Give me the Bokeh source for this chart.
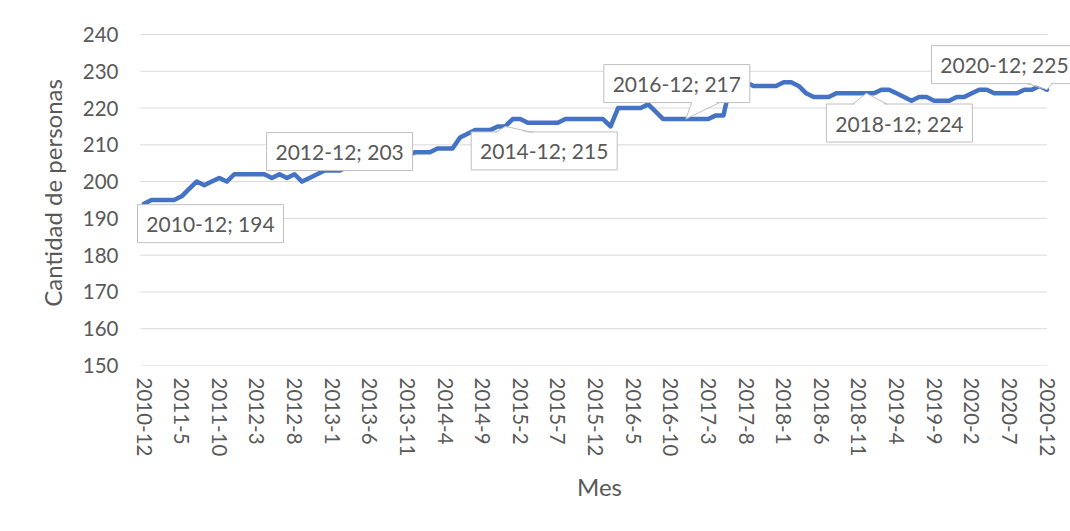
from bokeh.plotting import figure
from bokeh.models import Range1d, FixedTicker
from bokeh.core.properties import value
from bokeh.embed import file_html
from bokeh.resources import INLINE

# ---------------- data ----------------
tick_labels = ["2010-12", "2011-5", "2011-10", "2012-3", "2012-8", "2013-1", "2013-6",
               "2013-11", "2014-4", "2014-9", "2015-2", "2015-7", "2015-12", "2016-5",
               "2016-10", "2017-3", "2017-8", "2018-1", "2018-6", "2018-11", "2019-4",
               "2019-9", "2020-2", "2020-7", "2020-12"]
tick_step = 5  # one label every five months

# Monthly values, 2010-12 .. 2020-12 (121 months)
persons = [194, 195, 195, 195, 195, 196, 198, 200, 199, 200, 201, 200, 202,
           202, 202, 202, 202, 201, 202, 201, 202, 200, 201, 202, 203,
           203, 203, 204, 204, 205, 205, 205, 206, 206, 206, 207, 208,
           208, 208, 209, 209, 209, 212, 213, 214, 214, 214, 215, 215,
           217, 217, 216, 216, 216, 216, 216, 217, 217, 217, 217, 217,
           217, 215, 220, 220, 220, 220, 221, 219, 217, 217, 217, 217,
           217, 217, 217, 218, 218, 227, 227, 227, 226, 226, 226, 226,
           227, 227, 226, 224, 223, 223, 223, 224, 224, 224, 224, 224,
           224, 225, 225, 224, 223, 222, 223, 223, 222, 222, 222, 223,
           223, 224, 225, 225, 224, 224, 224, 224, 225, 225, 226, 225]

y_ticks = [150, 160, 170, 180, 190, 200, 210, 220, 230, 240]

annotated_months = ["2010-12", "2012-12", "2014-12", "2016-12", "2018-12", "2020-12"]
annotated_index = [0, 24, 48, 72, 96, 120]

# ---------------- layout / style ----------------
W, H = 1070, 531
ML, MR, MT, MB = 128, 0, 20, 166
FRAME_W = W - ML - MR
FRAME_H = H - MT - MB
PX_X = 7.525          # px per month
PX_Y = 3.678          # px per person
FIRST_PT_OFF = 15.5   # px from frame left to first month

x_start = -FIRST_PT_OFF / PX_X
x_end = x_start + FRAME_W / PX_X
y_start = y_ticks[0]
y_end = y_start + FRAME_H / PX_Y

TEXT = "#595959"
GRID = "#D9D9D9"
BORDER = "#BFBFBF"
LINE = "#4472C4"
FONT = "Lato"

p = figure(width=W, height=H, output_backend="svg", toolbar_location=None,
           x_range=Range1d(x_start, x_end), y_range=Range1d(y_start, y_end),
           min_border_left=ML, min_border_right=MR, min_border_top=MT,
           min_border_bottom=MB)
p.outline_line_color = None
p.xgrid.visible = False
p.ygrid.visible = False

# gridlines
n = len(persons)
grid_x0 = -0.45
p.segment(x0=[grid_x0] * len(y_ticks), x1=[n - 1] * len(y_ticks),
          y0=y_ticks, y1=y_ticks, line_color=GRID, line_width=1)

# series
p.line(x=list(range(n)), y=persons, line_color=LINE, line_width=4.5,
       line_join="round", line_cap="round")

# axes
tick_pos = [i * tick_step for i in range(len(tick_labels))]
p.xaxis.ticker = FixedTicker(ticks=tick_pos)
p.xaxis.major_label_overrides = {t: lab for t, lab in zip(tick_pos, tick_labels)}
p.xaxis.major_label_orientation = "vertical"
p.yaxis.ticker = FixedTicker(ticks=y_ticks)
for ax in (p.xaxis[0], p.yaxis[0]):
    ax.axis_line_color = None
    ax.major_tick_line_color = None
    ax.minor_tick_line_color = None
    ax.major_tick_out = 0
    ax.major_tick_in = 0
    ax.major_label_text_font = FONT
    ax.major_label_text_font_size = "20.5px"
    ax.major_label_text_color = TEXT
    ax.axis_label_text_font = FONT
    ax.axis_label_text_font_size = "24px"
    ax.axis_label_text_font_style = "normal"
    ax.axis_label_text_color = TEXT
p.xaxis.axis_label = "Mes"
p.yaxis.axis_label = "Cantidad de personas"
p.xaxis.major_label_standoff = 12
p.yaxis.major_label_standoff = 10
p.xaxis.axis_label_standoff = 13
p.yaxis.axis_label_standoff = 13

# data-label callouts (offsets in px, page y downward)
box_off = [(66.5, 20), (15, -19), (39, 24.5), (-9, -35.5), (33, 29.7), (-42.5, -25)]
box_size = (146, 38)
wedges = [None, None,
          ((-10, 6), (28, 6)),
          ((6, -16.6), (34, -16.6)),
          ((-14, 11), (21, 11)),
          ((-20, -6), (5, -6))]

def dx(px):
    return px / PX_X

def dy(px):
    return -px / PX_Y

bx, by, texts = [], [], []
for m, idx, (ox, oy) in zip(annotated_months, annotated_index, box_off):
    ax_, ay_ = idx, persons[idx]
    bx.append(ax_ + dx(ox))
    by.append(ay_ + dy(oy))
    texts.append(f"{m}; {persons[idx]}")

p.rect(x=bx, y=by, width=box_size[0], height=box_size[1], width_units="screen",
       height_units="screen", fill_color="white", line_color=BORDER, line_width=1)

wx, wy, lx, ly = [], [], [], []
for idx, w in zip(annotated_index, wedges):
    if w is None:
        continue
    ax_, ay_ = idx, persons[idx]
    (b1x, b1y), (b2x, b2y) = w
    sgn = 1 if b1y > 0 else -1
    ext = 2.0 * sgn
    wx.append([ax_, ax_ + dx(b1x), ax_ + dx(b2x)])
    wy.append([ay_, ay_ + dy(b1y + ext), ay_ + dy(b2y + ext)])
    lx.append([ax_ + dx(b1x), ax_, ax_ + dx(b2x)])
    ly.append([ay_ + dy(b1y), ay_, ay_ + dy(b2y)])

p.patches(xs=wx, ys=wy, fill_color="white", line_color=None)
p.multi_line(xs=lx, ys=ly, line_color=BORDER, line_width=1)

p.text(x=bx, y=by, text=texts, text_align="center", text_baseline="middle",
       text_font=value(FONT), text_font_size="21px", text_color=TEXT)

open("out.html", "w").write(file_html(p, INLINE))
